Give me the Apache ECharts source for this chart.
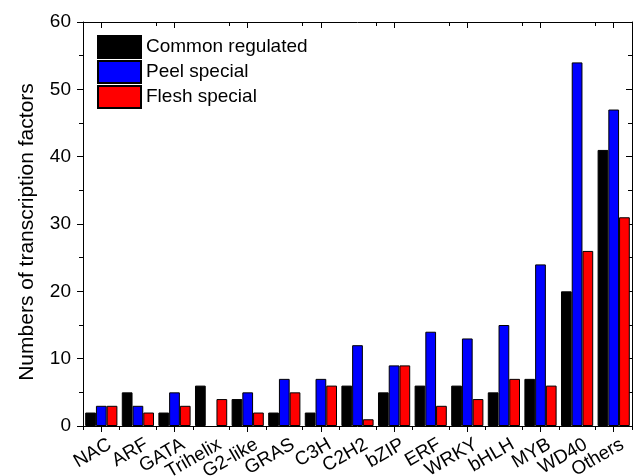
<!DOCTYPE html>
<html><head><meta charset="utf-8">
<script src="https://cdn.jsdelivr.net/npm/echarts@6/dist/echarts.min.js"></script>
<style>html,body{margin:0;padding:0;background:#fff}#c{width:638px;height:476px}</style>
</head><body><div id="c"></div>
<script>
var categories = ["NAC","ARF","GATA","Trihelix","G2-like","GRAS","C3H","C2H2","bZIP","ERF","WRKY","bHLH","MYB","WD40","Others"];
var commonRegulated = [2,5,2,6,4,2,2,6,5,6,6,5,7,20,41];
var peelSpecial = [3,3,5,0,5,7,7,12,9,14,13,15,24,54,47];
var fleshSpecial = [3,2,3,4,2,5,6,1,9,3,4,7,6,26,31];
var yTicks = [0,10,20,30,40,50,60];

var font = "Liberation Sans, Arial, sans-serif";
function barData(arr){
  return arr.map(function(v){ return v === 0 ? {value:v,itemStyle:{borderWidth:0}} : v; });
}
var chart = echarts.init(document.getElementById('c'));
chart.setOption({
  animation:false,
  grid:{left:83,right:6,top:22,bottom:50,outerBoundsMode:'none',containLabel:false},
  legend:{
    orient:'vertical', left:92, top:30, itemGap:1, itemWidth:43, itemHeight:22,
    icon:'rect',
    textStyle:{fontFamily:font,fontSize:19,color:'#000'},
    data:['Common regulated','Peel special','Flesh special']
  },
  xAxis:[
    {type:'category',data:categories,position:'bottom',
     axisLine:{show:true,lineStyle:{color:'#000',width:1}},
     axisTick:{show:true,length:4,lineStyle:{color:'#000'}},
     axisLabel:{rotate:30,fontFamily:font,fontSize:19,color:'#000',margin:2,interval:0,
       verticalAlign:'top',align:'right',padding:[8,0,0,0]}},
    {type:'category',data:categories,position:'bottom',
     axisLine:{show:false},
     axisTick:{show:true,alignWithLabel:true,length:6,lineStyle:{color:'#000'}},
     axisLabel:{show:false}},
    {type:'category',data:categories,position:'top',
     axisLine:{show:true,lineStyle:{color:'#000',width:1}},
     axisTick:{show:true,inside:true,length:4,lineStyle:{color:'#000'}},
     axisLabel:{show:false}},
    {type:'category',data:categories,position:'top',
     axisLine:{show:false},
     axisTick:{show:true,inside:true,alignWithLabel:true,length:6,lineStyle:{color:'#000'}},
     axisLabel:{show:false}}
  ],
  yAxis:[
    {type:'value',min:0,max:60,interval:10,position:'left',
     name:'Numbers of transcription factors',nameLocation:'middle',nameGap:45,
     nameTextStyle:{fontFamily:font,fontSize:21,color:'#000',padding:[0,16,0,0]},
     axisLine:{show:true,lineStyle:{color:'#000',width:1}},
     axisTick:{show:true,length:6,lineStyle:{color:'#000'}},
     minorTick:{show:true,splitNumber:2,length:4,lineStyle:{color:'#000'}},
     splitLine:{show:false},
     axisLabel:{fontFamily:font,fontSize:19,color:'#000',margin:12}},
    {type:'value',min:0,max:60,interval:10,position:'right',
     axisLine:{show:true,lineStyle:{color:'#000',width:1}},
     axisTick:{show:true,inside:true,length:6,lineStyle:{color:'#000'}},
     minorTick:{show:true,splitNumber:2,length:4,lineStyle:{color:'#000'}},
     splitLine:{show:false},
     axisLabel:{show:false}}
  ],
  series:[
    {name:'Common regulated',type:'bar',data:barData(commonRegulated),barGap:'0%',barCategoryGap:'12%',
     itemStyle:{color:'#000000',borderColor:'#000',borderWidth:1}},
    {name:'Peel special',type:'bar',data:barData(peelSpecial),barGap:'0%',barCategoryGap:'12%',
     itemStyle:{color:'#0000ff',borderColor:'#000',borderWidth:1}},
    {name:'Flesh special',type:'bar',data:barData(fleshSpecial),barGap:'0%',barCategoryGap:'12%',
     itemStyle:{color:'#ff0000',borderColor:'#000',borderWidth:1}}
  ]
});
</script></body></html>
